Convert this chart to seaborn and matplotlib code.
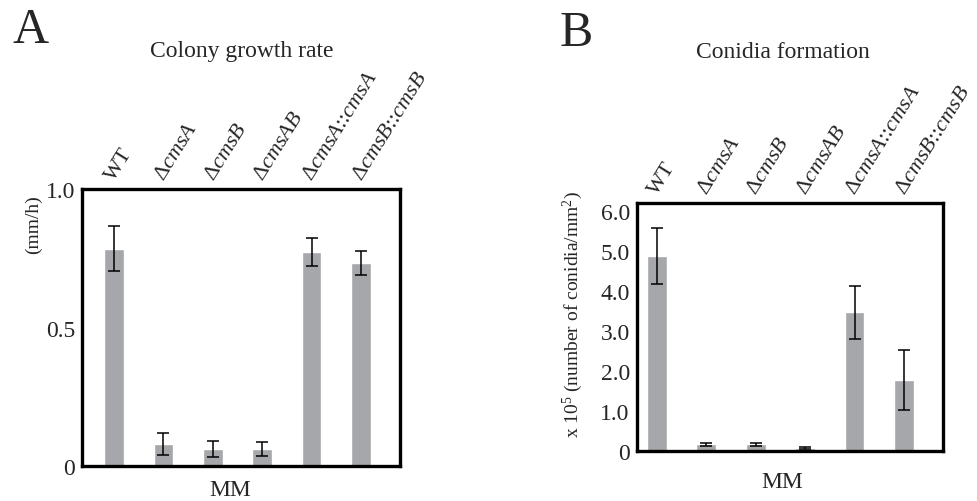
import matplotlib
matplotlib.use("Agg")
import matplotlib.pyplot as plt
import matplotlib.transforms as mtransforms
import seaborn as sns
import pandas as pd

strains = ["WT", "ΔcmsA", "ΔcmsB", "ΔcmsAB", "ΔcmsA::cmsA", "ΔcmsB::cmsB"]
tick_labels = ["WT",
               "Δ$\\it{cmsA}$",
               "Δ$\\it{cmsB}$",
               "Δ$\\it{cmsAB}$",
               "Δ$\\it{cmsA}$::$\\it{cmsA}$",
               "Δ$\\it{cmsB}$::$\\it{cmsB}$"]

growth_mean = [0.785, 0.078, 0.062, 0.060, 0.773, 0.732]
growth_err = [0.080, 0.040, 0.028, 0.025, 0.050, 0.043]

conidia_mean = [4.87, 0.16, 0.16, 0.07, 3.46, 1.78]
conidia_err = [0.70, 0.03, 0.04, 0.02, 0.66, 0.75]

sns.set_theme(style="white")
plt.rcParams['font.family'] = ['Liberation Serif', 'DejaVu Serif']
plt.rcParams['mathtext.fontset'] = 'custom'
plt.rcParams['mathtext.rm'] = 'Liberation Serif'
plt.rcParams['mathtext.it'] = 'Liberation Serif:italic'

bar_color = "#a6a7aa"
fs = 17

fig = plt.figure(figsize=(9.77, 5.02), dpi=100)
ax1 = fig.add_axes([0.0839, 0.0697, 0.3255, 0.5518])
ax2 = fig.add_axes([0.6517, 0.1002, 0.3135, 0.4934])

df_a = pd.DataFrame({"strain": strains, "value": growth_mean})
df_b = pd.DataFrame({"strain": strains, "value": conidia_mean})

# nudge the slanted labels so they start right over the bar centre
shift = mtransforms.ScaledTranslation(7 / 72, 0, fig.dpi_scale_trans)

for ax, df, err in [(ax1, df_a, growth_err), (ax2, df_b, conidia_err)]:
    sns.barplot(data=df, x="strain", y="value", color=bar_color, width=0.4,
                saturation=1, errorbar=None, ax=ax)
    ax.errorbar(range(len(strains)), df["value"], yerr=err, fmt="none",
                ecolor="black", elinewidth=1.1, capsize=4.3, capthick=1.1)
    ax.xaxis.tick_top()
    ax.set_xticks(range(len(strains)))
    ax.set_xticklabels(tick_labels, rotation=58, ha="left", va="baseline",
                       rotation_mode="anchor", fontsize=16)
    for lab in ax.get_xticklabels():
        lab.set_transform(lab.get_transform() + shift)
    ax.tick_params(axis="x", length=0, pad=6)
    ax.tick_params(axis="y", length=0, pad=5, labelsize=fs)
    ax.set_xlabel("")
    for s in ax.spines.values():
        s.set_linewidth(2.4)
        s.set_color("black")

ax1.set_xlim(-0.65, 5.79)
ax1.set_ylim(0, 1.0)
ax1.set_yticks([0, 0.5, 1.0])
ax1.set_yticklabels(["0", "0.5", "1.0"])
ax1.set_ylabel("(mm/h)", fontsize=14)
ax1.yaxis.set_label_coords(-0.126, 0.874)
ax1.text(0.465, -0.085, "MM", transform=ax1.transAxes, ha="center", va="center", fontsize=fs)

ax2.set_xlim(-0.41, 5.79)
ax2.set_ylim(0, 6.2)
ax2.set_yticks([0, 1, 2, 3, 4, 5, 6])
ax2.set_yticklabels(["0", "1.0", "2.0", "3.0", "4.0", "5.0", "6.0"])
ax2.set_ylabel("x 10$^5$ (number of conidia/mm$^2$)", fontsize=14)
ax2.yaxis.set_label_coords(-0.169, 0.552)
ax2.text(0.475, -0.126, "MM", transform=ax2.transAxes, ha="center", va="center", fontsize=fs)

fig.text(242 / 977, 1 - 52 / 502, "Colony growth rate", ha="center", va="center", fontsize=fs)
fig.text(783 / 977, 1 - 52 / 502, "Conidia formation", ha="center", va="center", fontsize=fs)
fig.text(31 / 977, 1 - 31 / 502, "A", ha="center", va="center", fontsize=36)
fig.text(576 / 977, 1 - 34 / 502, "B", ha="center", va="center", fontsize=36)

fig.savefig("out.png", dpi=100)
